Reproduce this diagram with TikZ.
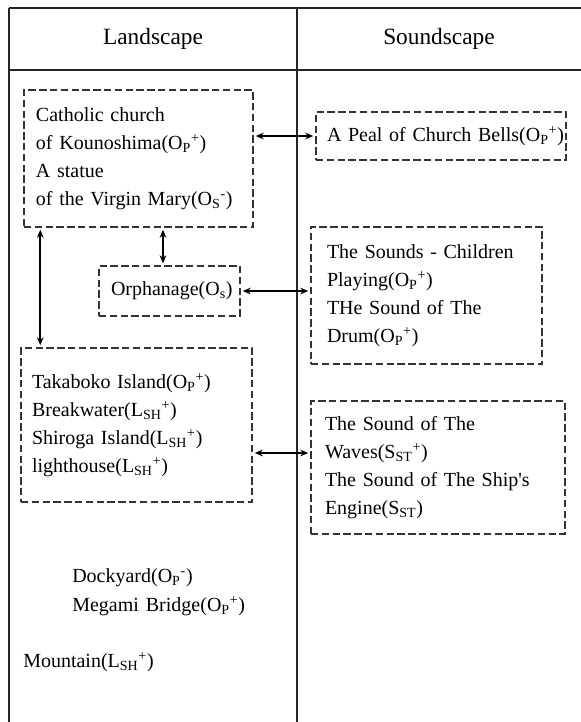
\documentclass[tikz,border=0pt]{standalone}
\usepackage{fontspec}
\setmainfont{Liberation Serif}
\newfontfamily\bodyfont[WordSpace=1.4]{Liberation Serif}
\usetikzlibrary{arrows.meta}
\newcommand\idx[3]{#1\textsubscript{#2}\textsuperscript{#3}}
\begin{document}
\begin{tikzpicture}[x=0.75pt,y=-0.75pt,
  rule/.style={line width=0.9pt, draw=black!85},
  dbox/.style={draw=black!80, dash pattern=on 5.5pt off 2.6pt, line width=1.1pt, align=left,
    font=\bodyfont\fontsize{15}{21}\selectfont, inner ysep=0pt},
  link/.style={line width=1.4pt, shorten <=1.5pt, shorten >=1.5pt,
    {Stealth[length=6pt,width=5pt]}-{Stealth[length=6pt,width=5pt]}},
  head/.style={font=\fontsize{17.5}{22}\selectfont},
  free/.style={font=\bodyfont\fontsize{15}{21}\selectfont, anchor=west, inner sep=0pt}
]
\useasboundingbox (0,0) rectangle (581,722);
% table
\draw[rule] (9,8) -- (581,8);
\draw[rule] (9,70) -- (581,70);
\draw[rule] (9,8) -- (9,722);
\draw[rule] (297,8) -- (297,722);
\node[head] (hl) at (153,39) {Landscape};
\node[head] (hs) at (439,39) {Soundscape};
% boxes
\node[dbox, text width=153.75pt, inner xsep=9pt, minimum height=102.75pt] (box1) at (138.5,158.5)
  {Catholic church\\ of Kounoshima(\idx{O}{P}{+})\\ A statue\\ of the Virgin Mary(\idx{O}{S}{-})};
\node[dbox, text width=171pt, inner xsep=8.25pt, minimum height=36pt] (box2) at (441,136)
  {\mbox{A Peal of Church Bells(\idx{O}{P}{+})}};
\node[dbox, text width=87.75pt, inner xsep=9pt, minimum height=37.5pt] (box3) at (169.5,291)
  {Orphanage(O\textsubscript{s})};
\node[dbox, text width=149.25pt, inner xsep=12pt, minimum height=102.75pt] (box4) at (426.5,295.5)
  {The Sounds - Children\\ Playing(\idx{O}{P}{+})\\ THe Sound of The\\ Drum(\idx{O}{P}{+})};
\node[dbox, text width=156.75pt, inner xsep=8.25pt, minimum height=115.5pt] (box5) at (136.5,425)
  {Takaboko Island(\idx{O}{P}{+})\\ Breakwater(\idx{L}{SH}{+})\\ Shiroga Island(\idx{L}{SH}{+})\\ lighthouse(\idx{L}{SH}{+})};
\node[dbox, text width=169.5pt, inner xsep=10.5pt, minimum height=99.75pt] (box6) at (438,467.5)
  {The Sound of The\\ Waves(\idx{S}{ST}{+})\\ The Sound of The Ship\textquotesingle s\\ Engine(S\textsubscript{ST})};
% free texts
\node[free] (dock) at (72,578) {Dockyard(\idx{O}{P}{-})};
\node[free] (bridge) at (72,606) {Megami Bridge(\idx{O}{P}{+})};
\node[free] (mount) at (23,662) {Mountain(\idx{L}{SH}{+})};
% connectors
\draw[link] (box1.east |- box2.west) -- (box2.west);
\coordinate (c13) at ([xshift=-4.9pt]box3.north);
\draw[link] (c13 |- box1.south) -- (c13);
\coordinate (c15) at ([xshift=15pt]box5.north west);
\draw[link] (c15 |- box1.south) -- (c15);
\draw[link] (box3.east) -- (box3.east -| box4.west);
\coordinate (c56) at ([yshift=-21pt]box5.east);
\draw[link] (c56) -- (c56 -| box6.west);
\end{tikzpicture}
\end{document}
